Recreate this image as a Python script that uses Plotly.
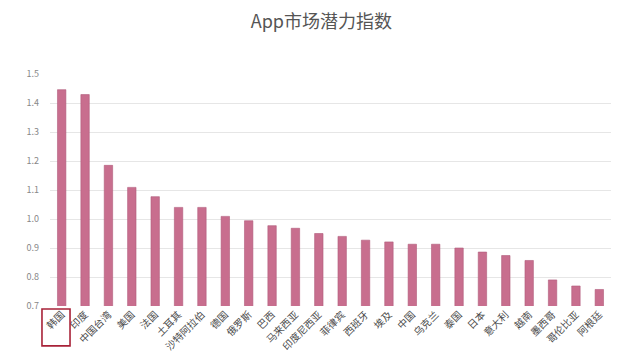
import plotly.graph_objects as go

countries = ["韩国", "印度", "中国台湾", "美国", "法国", "土耳其", "沙特阿拉伯", "德国",
             "俄罗斯", "巴西", "马来西亚", "印度尼西亚", "菲律宾", "西班牙", "埃及", "中国",
             "乌克兰", "泰国", "日本", "意大利", "越南", "墨西哥", "哥伦比亚", "阿根廷"]
index_values = [1.446, 1.429, 1.185, 1.109, 1.077, 1.04, 1.04, 1.009,
                0.994, 0.977, 0.968, 0.95, 0.94, 0.927, 0.921, 0.913,
                0.913, 0.90, 0.886, 0.874, 0.857, 0.79, 0.769, 0.757]
y_ticks = [0.7, 0.8, 0.9, 1.0, 1.1, 1.2, 1.3, 1.4, 1.5]

fig = go.Figure()
fig.add_trace(go.Bar(
    x=countries, y=index_values,
    marker=dict(color="#c86e8e", line=dict(color="#b05a7a", width=0.6)),
))

# highlight box around the first category label
fig.add_shape(type="rect", xref="paper", yref="paper",
              x0=-0.0143, x1=0.0357, y0=-0.013, y1=-0.172,
              line=dict(color="#a82238", width=1.6), fillcolor="rgba(0,0,0,0)")

fig.update_layout(
    width=618, height=364,
    margin=dict(l=50, r=7, t=74, b=58, autoexpand=False),
    paper_bgcolor="white", plot_bgcolor="white",
    bargap=0.64,
    showlegend=False,
    title=dict(text="App市场潜力指数", x=0.52, xanchor="center", y=0.94, yanchor="middle",
               font=dict(size=18, color="#555555", family="Noto Sans CJK SC"),
               automargin=False),
    font=dict(family="Noto Sans CJK SC", color="#666666"),
)
fig.update_xaxes(range=[-0.5, len(countries) - 0.5],
                 tickangle=-45, tickfont=dict(size=10, color="#4a4a4a"),
                 showgrid=False, showline=False, ticks="", automargin=False)
fig.update_yaxes(range=[0.7, 1.5], tickvals=y_ticks, tickformat=".1f",
                 tickfont=dict(size=9, color="#888888"),
                 showgrid=True, gridcolor="#e6e6e6", gridwidth=1,
                 zeroline=False, showline=False, ticklabelstandoff=10,
                 automargin=False)

fig.write_html("out.html", config={"displayModeBar": False},
               post_script="document.body.style.margin='0';document.body.style.overflow='hidden';")
